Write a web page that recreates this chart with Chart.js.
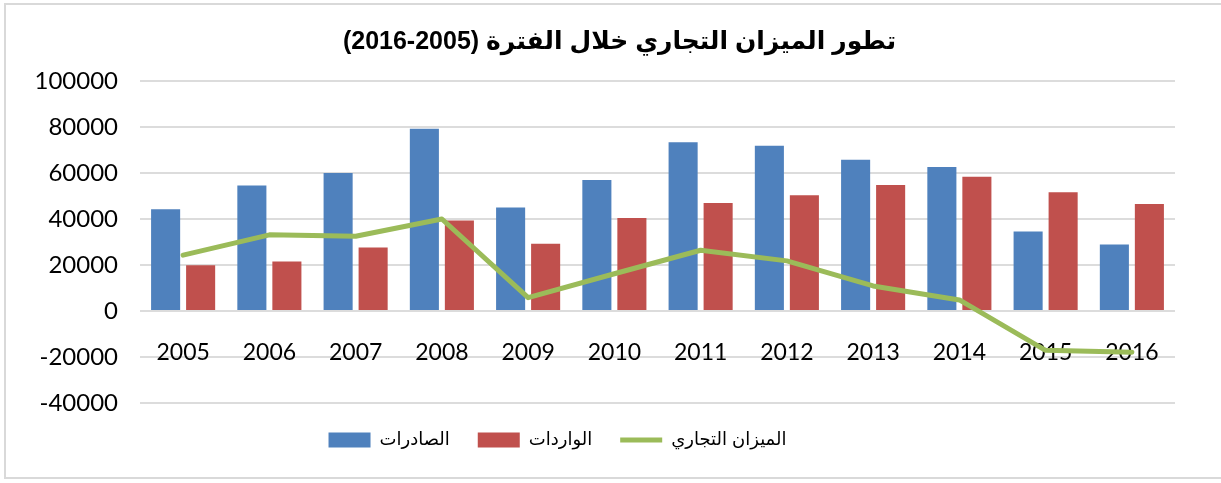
<!DOCTYPE html>
<html>
<head>
<meta charset="utf-8">
<script src="https://cdn.jsdelivr.net/npm/chart.js@4/dist/chart.umd.min.js"></script>
<style>
  html, body { margin: 0; padding: 0; background: #ffffff; }
  #frame { position: absolute; left: 4px; top: 3px; width: 1260px; height: 476px; border: 2px solid #d9d9d9; border-right: none; box-sizing: border-box; }
  #wrap { position: absolute; left: 0; top: 0; width: 1221px; height: 483px; }
</style>
</head>
<body>
<div id="frame"></div>
<div id="wrap"><canvas id="c" width="1221" height="483"></canvas></div>
<script>
const years = ['2005','2006','2007','2008','2009','2010','2011','2012','2013','2014','2015','2016'];
const exportsVals = [44200, 54600, 60000, 79200, 45000, 57000, 73400, 71800, 65800, 62600, 34600, 28900];
const importsVals = [19900, 21500, 27600, 39400, 29200, 40400, 47000, 50300, 54800, 58400, 51600, 46500];
const balanceVals = [24300, 33100, 32500, 40000, 5800, 16200, 26400, 21800, 10900, 4800, -17100, -17900];
const seriesNames = ['الصادرات', 'الواردات', 'الميزان التجاري'];
const titleText = '\u202Bتطور الميزان التجاري خلال الفترة (2005-2016)\u202C';
const yTicks = { min: -40000, max: 100000, step: 20000 };

const latin = "Lato, 'Liberation Sans', sans-serif";
const arabic = "'Liberation Sans', 'DejaVu Sans', sans-serif";

// shift title / legend horizontally to match the reference placement
const shiftBlocks = {
  id: 'shiftBlocks',
  afterLayout(chart) {
    if (chart.titleBlock) { chart.titleBlock.left += 32; chart.titleBlock.right += 32; }
    if (chart.legend) { chart.legend.left -= 30; chart.legend.right -= 30; }
  }
};

new Chart(document.getElementById('c'), {
  data: {
    labels: years,
    datasets: [
      { type: 'bar', label: seriesNames[0], data: exportsVals, backgroundColor: '#4F81BD', borderWidth: 0, pointStyle: 'rect', order: 1, categoryPercentage: 0.812, barPercentage: 0.83 },
      { type: 'bar', label: seriesNames[1], data: importsVals, backgroundColor: '#C0504D', borderWidth: 0, pointStyle: 'rect', order: 1, categoryPercentage: 0.812, barPercentage: 0.83 },
      { type: 'line', label: seriesNames[2], data: balanceVals, borderColor: '#9BBB59', backgroundColor: '#9BBB59', borderWidth: 5, borderCapStyle: 'round', borderJoinStyle: 'round', pointRadius: 0, pointHoverRadius: 0, pointStyle: 'line', tension: 0, order: 0 }
    ]
  },
  plugins: [shiftBlocks],
  options: {
    responsive: false,
    animation: false,
    devicePixelRatio: 1,
    layout: { padding: { left: 0, right: 46, top: 9, bottom: 24 } },
    plugins: {
      tooltip: { enabled: false },
      title: {
        display: true,
        text: titleText,
        color: '#000',
        font: { family: arabic, size: 25, weight: 'bold' },
        padding: { top: 18, bottom: 24 }
      },
      legend: {
        position: 'bottom',
        labels: {
          usePointStyle: true,
          pointStyleWidth: 42,
          boxHeight: 15,
          padding: 28,
          color: '#000',
          font: { family: arabic, size: 18 },
          sort: (a, b) => a.datasetIndex - b.datasetIndex
        }
      }
    },
    scales: {
      x: {
        position: { y: 0 },
        z: 1,
        grid: { display: false, drawTicks: false },
        border: { display: false },
        ticks: { color: '#000', font: { family: latin, size: 23 }, padding: 28, maxRotation: 0 }
      },
      y: {
        min: yTicks.min,
        max: yTicks.max,
        afterFit: (s) => { s.width = 140; },
        grid: { color: '#dcdcdc', lineWidth: 2, drawTicks: false },
        border: { display: false },
        ticks: { stepSize: yTicks.step, color: '#000', font: { family: latin, size: 24 }, padding: 22, callback: (v) => String(v) }
      }
    }
  }
});
</script>
</body>
</html>
